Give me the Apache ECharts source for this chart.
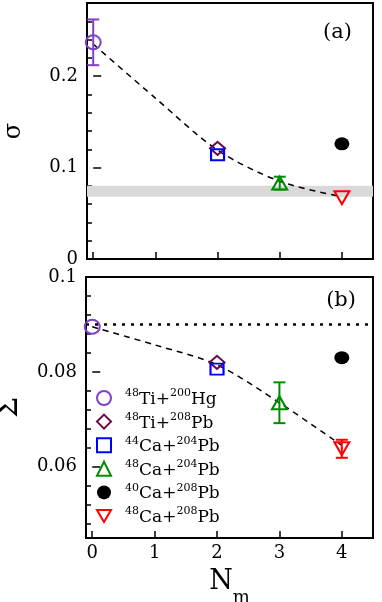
<!DOCTYPE html>
<html>
<head>
<meta charset="UTF-8">
<title>sigma vs Nm</title>
<script src="https://cdn.jsdelivr.net/npm/echarts@6/dist/echarts.min.js"></script>
<style>
  html, body { margin: 0; padding: 0; background: #fff; }
  #main { width: 382px; height: 602px; }
</style>
</head>
<body>
<div id="main"></div>
<script>
// reaction systems (legend order)
var systems = ['48Ti+200Hg', '48Ti+208Pb', '44Ca+204Pb', '48Ca+204Pb', '40Ca+208Pb', '48Ca+208Pb'];
var nm = [0, 2, 2, 3, 4, 4];
// panel (a): sigma
var sigma = [0.237, 0.121, 0.114, 0.083, 0.126, 0.067];
var sigmaErr = [0.025, 0, 0, 0.007, 0, 0];
// panel (b): Sigma
var bigSigma = [0.0895, 0.082, 0.0806, 0.0735, 0.083, 0.0638];
var bigSigmaErr = [0, 0, 0, 0.0043, 0, 0.0019];
// dashed guide curves
var fitX = [0, 1, 2, 3, 4];
var sigmaFit = [0.235, 0.176, 0.119, 0.085, 0.068];
var bigSigmaFit = [0.0895, 0.0857, 0.0815, 0.0735, 0.0645];
// grey band (a) and dotted level (b)
var sigmaBand = [0.068, 0.080];
var bigSigmaRef = 0.0924;
// ticks
var xTicks = [0, 1, 2, 3, 4];
var sigmaMajor = [0, 0.1, 0.2];
var sigmaMinor = [0.02, 0.04, 0.06, 0.08, 0.12, 0.14, 0.16, 0.18, 0.22, 0.24, 0.26];
var bigMajor = [0.06, 0.08, 0.1];
var bigMinor = [0.048, 0.052, 0.056, 0.064, 0.068, 0.072, 0.076, 0.084, 0.088, 0.092, 0.096];

var FONT = 'DejaVu Serif';
var colors = ['#8040c8', '#680848', '#0000ff', '#008c00', '#000000', '#ff0000'];
var downTri = 'path://M0,0L20,0L10,17Z';
var symbols = ['circle', 'diamond', 'rect', 'triangle', 'circle', downTri];
var sizes = [[15, 14], [15, 13], [13, 11], [15, 13], [15, 13], [15, 13]];
var filled = [false, false, false, false, true, false];

var chart = echarts.init(document.getElementById('main'));

function errorBar(params, api) {
    var x = api.value(0), y = api.value(1), e = api.value(2);
    var hi = api.coord([x, y + e]);
    var lo = api.coord([x, y - e]);
    var w = 6;
    var style = { stroke: api.visual('color'), lineWidth: 2 };
    return {
        type: 'group',
        children: [
            { type: 'line', shape: { x1: hi[0], y1: hi[1], x2: lo[0], y2: lo[1] }, style: style },
            { type: 'line', shape: { x1: hi[0] - w, y1: hi[1], x2: hi[0] + w, y2: hi[1] }, style: style },
            { type: 'line', shape: { x1: lo[0] - w, y1: lo[1], x2: lo[0] + w, y2: lo[1] }, style: style }
        ]
    };
}

function legendText(name) {
    var m = name.match(/^(\d+)([A-Za-z]+\+)(\d+)([A-Za-z]+)$/);
    return '{g| }{s|' + m[1] + '}{n|' + m[2] + '}{s|' + m[3] + '}{n|' + m[4] + '}';
}

var series = [];
// grey band
series.push({
    type: 'line', xAxisIndex: 0, yAxisIndex: 0, data: [], z: 1, silent: true,
    markArea: {
        silent: true,
        itemStyle: { color: '#d9d9d9' },
        data: [[{ yAxis: sigmaBand[0] }, { yAxis: sigmaBand[1] }]]
    }
});
// dashed curves
series.push({
    type: 'line', xAxisIndex: 0, yAxisIndex: 0, z: 2, silent: true,
    data: fitX.map(function (x, i) { return [x, sigmaFit[i]]; }),
    smooth: 0.3, symbol: 'none',
    lineStyle: { color: '#000', width: 1.5, type: [6, 5] }
});
series.push({
    type: 'line', xAxisIndex: 1, yAxisIndex: 2, z: 2, silent: true,
    data: fitX.map(function (x, i) { return [x, bigSigmaFit[i]]; }),
    smooth: 0.3, symbol: 'none',
    lineStyle: { color: '#000', width: 1.5, type: [6, 5] },
    markLine: {
        silent: true, symbol: 'none', label: { show: false },
        lineStyle: { color: '#000', width: 2.5, type: [3, 6] },
        data: [{ yAxis: bigSigmaRef }]
    }
});
// error bars
function errData(vals, errs) {
    var out = [];
    for (var i = 0; i < vals.length; i++) {
        if (errs[i] > 0) out.push({ value: [nm[i], vals[i], errs[i]], itemStyle: { color: colors[i] } });
    }
    return out;
}
series.push({ type: 'custom', xAxisIndex: 0, yAxisIndex: 0, z: 3, silent: true, renderItem: errorBar, data: errData(sigma, sigmaErr) });
series.push({ type: 'custom', xAxisIndex: 1, yAxisIndex: 2, z: 3, silent: true, renderItem: errorBar, data: errData(bigSigma, bigSigmaErr) });
// markers
systems.forEach(function (name, i) {
    var style = filled[i]
        ? { color: colors[i], opacity: 1 }
        : { color: 'rgba(255,255,255,0)', borderColor: colors[i], borderWidth: 2, opacity: 1 };
    [[0, 0, sigma], [1, 2, bigSigma]].forEach(function (p) {
        series.push({
            name: name, type: 'scatter', xAxisIndex: p[0], yAxisIndex: p[1], z: 4, silent: true,
            symbol: symbols[i], symbolSize: sizes[i],
            itemStyle: style,
            data: [[nm[i], p[2][i]]]
        });
    });
});

var axisLab = { fontFamily: FONT, fontSize: 18, color: '#000' };
var tickLine = { color: '#000', width: 1.5 };

var option = {
    animation: false,
    title: [
        { text: '(a)', right: 25, top: 17, textStyle: { fontFamily: FONT, fontSize: 21, fontWeight: 'normal', color: '#000' } },
        { text: '(b)', right: 21, top: 285, textStyle: { fontFamily: FONT, fontSize: 21, fontWeight: 'normal', color: '#000' } }
    ],
    legend: {
        orient: 'vertical', left: 96, top: 388, padding: 0,
        itemWidth: 14, itemHeight: 14, itemGap: 3.6,
        data: systems,
        formatter: legendText,
        textStyle: {
            fontFamily: FONT, color: '#000',
            rich: {
                g: { width: 9, fontSize: 17 },
                s: { fontFamily: FONT, fontSize: 11, lineHeight: 11, verticalAlign: 'top', color: '#000' },
                n: { fontFamily: FONT, fontSize: 17, lineHeight: 20, verticalAlign: 'bottom', color: '#000' }
            }
        }
    },
    grid: [
        { left: 87, top: 3, width: 286, height: 256, outerBoundsMode: 'none', show: true, borderColor: '#000', borderWidth: 2, backgroundColor: 'transparent' },
        { left: 86, top: 277, width: 287, height: 261, outerBoundsMode: 'none', show: true, borderColor: '#000', borderWidth: 2, backgroundColor: 'transparent' }
    ],
    xAxis: [
        {
            type: 'value', gridIndex: 0, min: -0.1, max: 4.5,
            axisLine: { show: false }, splitLine: { show: false },
            axisTick: { show: true, inside: true, length: 7, customValues: xTicks, lineStyle: tickLine },
            axisLabel: { show: false }
        },
        {
            type: 'value', gridIndex: 1, min: -0.1, max: 4.5,
            axisLine: { show: false }, splitLine: { show: false },
            axisTick: { show: true, inside: true, length: 7, customValues: xTicks, lineStyle: tickLine },
            axisLabel: Object.assign({ customValues: xTicks, margin: 6 }, axisLab),
            name: '{n|N}{m|m}', nameLocation: 'middle', nameGap: 30,
            nameTextStyle: {
                rich: {
                    n: { fontFamily: FONT, fontSize: 27, lineHeight: 28, verticalAlign: 'top', color: '#000' },
                    m: { fontFamily: FONT, fontSize: 18, lineHeight: 39, verticalAlign: 'bottom', color: '#000' }
                }
            }
        }
    ],
    yAxis: [
        {
            type: 'value', gridIndex: 0, position: 'left', min: 0, max: 0.28,
            axisLine: { show: false }, splitLine: { show: false },
            axisTick: { show: true, inside: true, length: 8, customValues: sigmaMajor, lineStyle: tickLine },
            axisLabel: Object.assign({ customValues: sigmaMajor, margin: 9 }, axisLab),
            name: 'σ', nameLocation: 'middle', nameGap: 61,
            nameTextStyle: { fontFamily: FONT, fontSize: 24, color: '#000' }
        },
        {
            // minor ticks only
            type: 'value', gridIndex: 0, position: 'left', min: 0, max: 0.28,
            axisLine: { show: false }, splitLine: { show: false },
            axisTick: { show: true, inside: true, length: 5, customValues: sigmaMinor, lineStyle: tickLine },
            axisLabel: { show: false }
        },
        {
            type: 'value', gridIndex: 1, position: 'left', min: 0.045, max: 0.1,
            axisLine: { show: false }, splitLine: { show: false },
            axisTick: { show: true, inside: true, length: 8, customValues: bigMajor, lineStyle: tickLine },
            axisLabel: Object.assign({ customValues: bigMajor, margin: 9 }, axisLab),
            name: 'Σ', nameLocation: 'middle', nameGap: 62,
            nameTextStyle: { fontFamily: FONT, fontSize: 30, color: '#000' }
        },
        {
            type: 'value', gridIndex: 1, position: 'left', min: 0.045, max: 0.1,
            axisLine: { show: false }, splitLine: { show: false },
            axisTick: { show: true, inside: true, length: 5, customValues: bigMinor, lineStyle: tickLine },
            axisLabel: { show: false }
        }
    ],
    series: series
};

chart.setOption(option);
</script>
</body>
</html>
